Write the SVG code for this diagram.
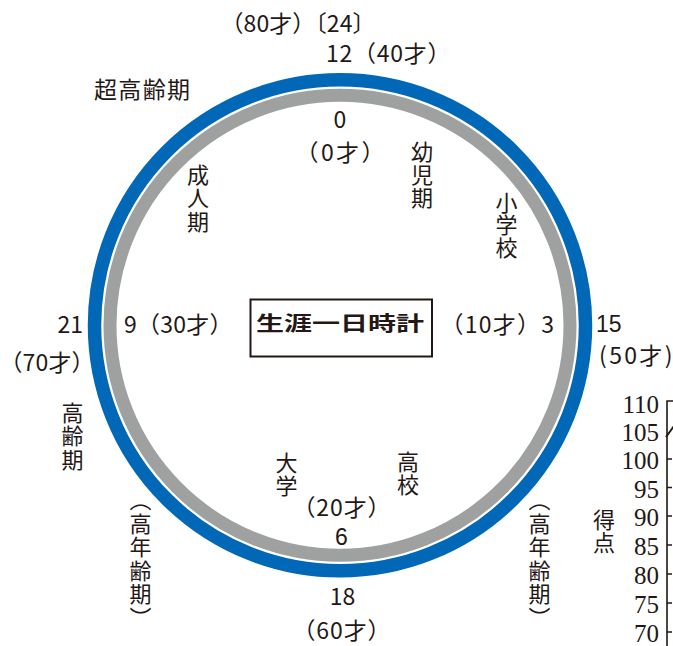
<svg xmlns="http://www.w3.org/2000/svg" width="673" height="646" viewBox="0 0 673 646">
<style>
.t{font-family:"Noto Sans CJK JP","Noto Sans",sans-serif;font-size:23px;fill:#231815}
.d{font-family:"Liberation Sans",Arial,sans-serif;font-size:23px;fill:#231815}
.v{font-family:"Noto Sans CJK JP",sans-serif;font-size:22px;fill:#231815;writing-mode:vertical-rl;letter-spacing:1px}
.m{text-anchor:middle}
.e{text-anchor:end}
.ax{font-family:"Liberation Serif","DejaVu Serif",serif;font-size:25px;fill:#231815;text-anchor:end}
.tk{stroke:#231815;stroke-width:1.6;fill:none}
</style>
<rect width="673" height="646" fill="#ffffff"/>
<g id="clock">
<circle cx="340" cy="325.3" r="245.5" fill="none" stroke="#0068b7" stroke-width="13.5"/>
<circle cx="340" cy="325.3" r="230" fill="none" stroke="#9fa0a0" stroke-width="13"/>
</g>
<g id="title">
<rect x="250.5" y="299.5" width="181.5" height="57" fill="#ffffff" stroke="#231815" stroke-width="2"/>
<text x="256" y="330.5" style="font-family:'Noto Sans CJK JP',sans-serif;font-size:20px;font-weight:700;fill:#231815" textLength="168" lengthAdjust="spacingAndGlyphs">生涯一日時計</text>
</g>
<g id="outer-labels">
<text class="t" x="220.5" y="32" textLength="155" lengthAdjust="spacing">（80才）〔24〕</text>
<text class="t" x="326" y="62" textLength="124.5" lengthAdjust="spacing">12（40才）</text>
<text class="t" x="94" y="98" textLength="96" lengthAdjust="spacing">超高齢期</text>
<text class="t e" x="83" y="333">21</text>
<text class="t" x="-0.5" y="371" textLength="95" lengthAdjust="spacing">（70才）</text>
<text class="d" x="596" y="332">15</text>
<text class="t" x="599" y="364" textLength="73.5" lengthAdjust="spacing">(50才)</text>
<text class="t m" x="342.5" y="605">18</text>
<text class="t" x="292.5" y="639" textLength="98" lengthAdjust="spacing">（60才）</text>
<text class="v" x="72.5" y="401.5" style="letter-spacing:1.5px">高齢期</text>
</g>
<g id="inner-labels">
<text class="t m" x="340" y="128">0</text>
<text class="t" x="295.5" y="161" textLength="89" lengthAdjust="spacing">（0才）</text>
<text class="t" x="124" y="333" textLength="108.5" lengthAdjust="spacing">9（30才）</text>
<text class="t" x="440.5" y="333" textLength="113.5" lengthAdjust="spacing">（10才）3</text>
<text class="t" x="292.5" y="516" textLength="98" lengthAdjust="spacing">（20才）</text>
<text class="d m" x="341.5" y="545">6</text>
<text class="v" x="422" y="140.5">幼児期</text>
<text class="v" x="198" y="163.5" style="letter-spacing:1.5px">成人期</text>
<text class="v" x="506.5" y="191.5" style="letter-spacing:0.5px">小学校</text>
<text class="v" x="286.5" y="451.5">大学</text>
<text class="v" x="408" y="450.5">高校</text>
</g>
<g id="elderly-left">
<text class="v" x="140.5" y="489" style="letter-spacing:1.5px">（高年齢期）</text>
</g>
<g id="elderly-right">
<text class="v" x="539.5" y="489" style="letter-spacing:1.5px">（高年齢期）</text>
</g>
<g id="axis">
<path class="tk" d="M667,646 V401 H673 M667,459 H672 M667,487.5 H672 M667,516 H672 M667,545 H672 M667,574 H672 M667,603 H672 M667,632 H672"/>
<path d="M666,437 L674,426" stroke="#231815" stroke-width="2" fill="none"/>
<text class="ax" x="659" y="413">110</text>
<text class="ax" x="659" y="441">105</text>
<text class="ax" x="659" y="469">100</text>
<text class="ax" x="659" y="497.5">95</text>
<text class="ax" x="659" y="526">90</text>
<text class="ax" x="659" y="555">85</text>
<text class="ax" x="659" y="584">80</text>
<text class="ax" x="659" y="613">75</text>
<text class="ax" x="659" y="642">70</text>
<text class="v" x="604" y="508.5">得点</text>
</g>
<g id="connectors"/>
</svg>
